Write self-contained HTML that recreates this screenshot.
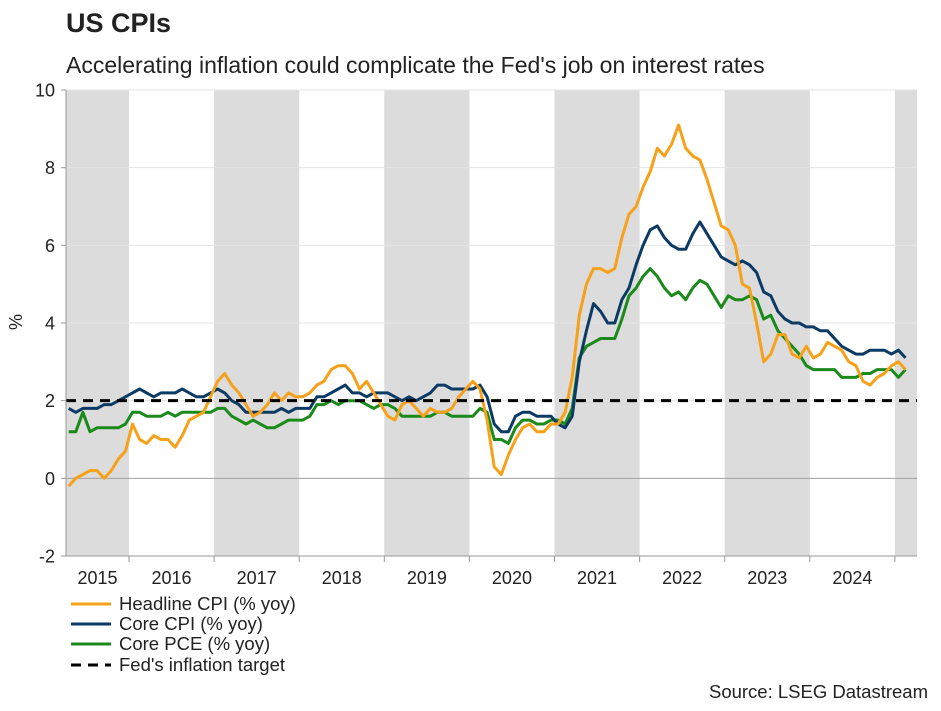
<!DOCTYPE html>
<html><head><meta charset="utf-8"><style>
body{margin:0;background:#fff;font-family:"Liberation Sans",Arial,sans-serif;}
svg text{font-family:"Liberation Sans",Arial,sans-serif;fill:#222;}
</style></head><body>
<svg id="chart" width="941" height="706" viewBox="0 0 941 706">
<text x="66" y="32" font-size="27" font-weight="bold" fill="#111">US CPIs</text>
<text x="66" y="73" font-size="23">Accelerating inflation could complicate the Fed's job on interest rates</text>
<g id="bands"></g><g id="grid"></g><g id="series"></g><g id="axes"></g>
<text transform="translate(22,322) rotate(-90)" text-anchor="middle" font-size="18">%</text>
<g font-size="18.5">
<line x1="71" y1="604" x2="111" y2="604" stroke="#F7A11A" stroke-width="3"/><text x="119" y="610">Headline CPI (% yoy)</text>
<line x1="71" y1="624" x2="111" y2="624" stroke="#0B3A64" stroke-width="3"/><text x="119" y="630">Core CPI (% yoy)</text>
<line x1="71" y1="644" x2="111" y2="644" stroke="#1A8A1A" stroke-width="3"/><text x="119" y="650">Core PCE (% yoy)</text>
<line x1="71" y1="665" x2="111" y2="665" stroke="#000" stroke-width="3" stroke-dasharray="10,7"/><text x="119" y="671">Fed's inflation target</text>
</g>
<text x="928" y="698" text-anchor="end" font-size="18.5">Source: LSEG Datastream</text>
</svg>
<script>
const years=[2015,2016,2017,2018,2019,2020,2021,2022,2023,2024];
const yTicks=[-2,0,2,4,6,8,10];
const fedTarget=2;
const startMonth=3; // Apr 2015, months since Jan 2015
const headline=[-0.2,0.0,0.1,0.2,0.2,0.0,0.2,0.5,0.7,
1.4,1.0,0.9,1.1,1.0,1.0,0.8,1.1,1.5,1.6,1.7,2.1,
2.5,2.7,2.4,2.2,1.9,1.6,1.7,1.9,2.2,2.0,2.2,2.1,
2.1,2.2,2.4,2.5,2.8,2.9,2.9,2.7,2.3,2.5,2.2,1.9,
1.6,1.5,1.9,2.0,1.8,1.6,1.8,1.7,1.7,1.8,2.1,2.3,
2.5,2.3,1.5,0.3,0.1,0.6,1.0,1.3,1.4,1.2,1.2,1.4,
1.4,1.7,2.6,4.2,5.0,5.4,5.4,5.3,5.4,6.2,6.8,7.0,
7.5,7.9,8.5,8.3,8.6,9.1,8.5,8.3,8.2,7.7,7.1,6.5,
6.4,6.0,5.0,4.9,4.0,3.0,3.2,3.7,3.7,3.2,3.1,3.4,
3.1,3.2,3.5,3.4,3.3,3.0,2.9,2.5,2.4,2.6,2.7,2.9,
3.0,2.8];
const coreCpi=[1.8,1.7,1.8,1.8,1.8,1.9,1.9,2.0,2.1,
2.2,2.3,2.2,2.1,2.2,2.2,2.2,2.3,2.2,2.1,2.1,2.2,
2.3,2.2,2.0,1.9,1.7,1.7,1.7,1.7,1.7,1.8,1.7,1.8,
1.8,1.8,2.1,2.1,2.2,2.3,2.4,2.2,2.2,2.1,2.2,2.2,
2.2,2.1,2.0,2.1,2.0,2.1,2.2,2.4,2.4,2.3,2.3,2.3,
2.3,2.4,2.1,1.4,1.2,1.2,1.6,1.7,1.7,1.6,1.6,1.6,
1.4,1.3,1.6,3.0,3.8,4.5,4.3,4.0,4.0,4.6,4.9,5.5,
6.0,6.4,6.5,6.2,6.0,5.9,5.9,6.3,6.6,6.3,6.0,5.7,
5.6,5.5,5.6,5.5,5.3,4.8,4.7,4.3,4.1,4.0,4.0,3.9,
3.9,3.8,3.8,3.6,3.4,3.3,3.2,3.2,3.3,3.3,3.3,3.2,
3.3,3.1];
const corePce=[1.2,1.2,1.7,1.2,1.3,1.3,1.3,1.3,1.4,
1.7,1.7,1.6,1.6,1.6,1.7,1.6,1.7,1.7,1.7,1.7,1.7,
1.8,1.8,1.6,1.5,1.4,1.5,1.4,1.3,1.3,1.4,1.5,1.5,
1.5,1.6,1.9,1.9,2.0,1.9,2.0,2.0,2.0,1.9,1.8,1.9,
1.9,1.8,1.6,1.6,1.6,1.6,1.6,1.7,1.7,1.6,1.6,1.6,
1.6,1.8,1.7,1.0,1.0,0.9,1.3,1.5,1.5,1.4,1.4,1.5,
1.5,1.4,1.8,3.1,3.4,3.5,3.6,3.6,3.6,4.1,4.7,4.9,
5.2,5.4,5.2,4.9,4.7,4.8,4.6,4.9,5.1,5.0,4.7,4.4,
4.7,4.6,4.6,4.7,4.6,4.1,4.2,3.8,3.6,3.4,3.2,2.9,
2.8,2.8,2.8,2.8,2.6,2.6,2.6,2.7,2.7,2.8,2.8,2.8,
2.6,2.8];
const NS="http://www.w3.org/2000/svg";
const L=66,R=917,T=90,B=556,yearW=85.1,x0=129-yearW;
const xM=m=>x0+(m+0.5)*yearW/12;
const xY=yr=>x0+(yr-2015)*yearW;
const yV=v=>T+(10-v)*(B-T)/12;
function mk(tag,attrs,parent){const e=document.createElementNS(NS,tag);for(const k in attrs)e.setAttribute(k,attrs[k]);document.getElementById(parent).appendChild(e);return e;}
for(let yr=2015;yr<=2025;yr++){
  if((yr-2015)%2===0){
    const a=Math.max(L,xY(yr)),b=Math.min(R,xY(yr+1));
    const r=mk('rect',{x:a,y:T,width:b-a,height:B-T,fill:'#DCDCDC'},'bands');
    
    
  }
}
yTicks.forEach(v=>{
  const y=yV(v);
  const ln=mk('line',{x1:L,x2:R,y1:y,y2:y,stroke:v===0?'#A0A0A0':'#E4E4E4','stroke-width':1},'grid');
  
  
  const t=mk('text',{x:L-11,y:y+6.5,'text-anchor':'end','font-size':18},'axes');
  t.textContent=v;
  
  
  mk('line',{x1:L-5,x2:L,y1:y,y2:y,stroke:'#999'},'axes');
});
mk('line',{x1:L,x2:L,y1:T,y2:B,stroke:'#999'},'axes');
mk('line',{x1:L-5,x2:R,y1:B,y2:B,stroke:'#999'},'axes');
years.forEach(yr=>{
  const a=Math.max(L,xY(yr)),b=Math.min(R,xY(yr+1));
  const t=mk('text',{x:(a+b)/2,y:584,'text-anchor':'middle','font-size':18},'axes');
  t.textContent=yr;
  
  
  mk('line',{x1:xY(yr+1),x2:xY(yr+1),y1:B,y2:B+6,stroke:'#999'},'axes');
});
function series(data,color,name){
  const d=data.map((v,i)=>(i?'L':'M')+xM(startMonth+i).toFixed(1)+','+yV(v).toFixed(1)).join('');
  const p=mk('path',{d:d,fill:'none',stroke:color,'stroke-width':3,'stroke-linejoin':'round'},'series');
  
  
}
series(corePce,'#1A8A1A','core-pce-line');
series(coreCpi,'#0B3A64','core-cpi-line');
series(headline,'#F7A11A','headline-cpi-line');
const f=mk('line',{x1:L,x2:R,y1:yV(fedTarget),y2:yV(fedTarget),stroke:'#000','stroke-width':3,'stroke-dasharray':'10,7'},'series');


</script>
</body></html>
